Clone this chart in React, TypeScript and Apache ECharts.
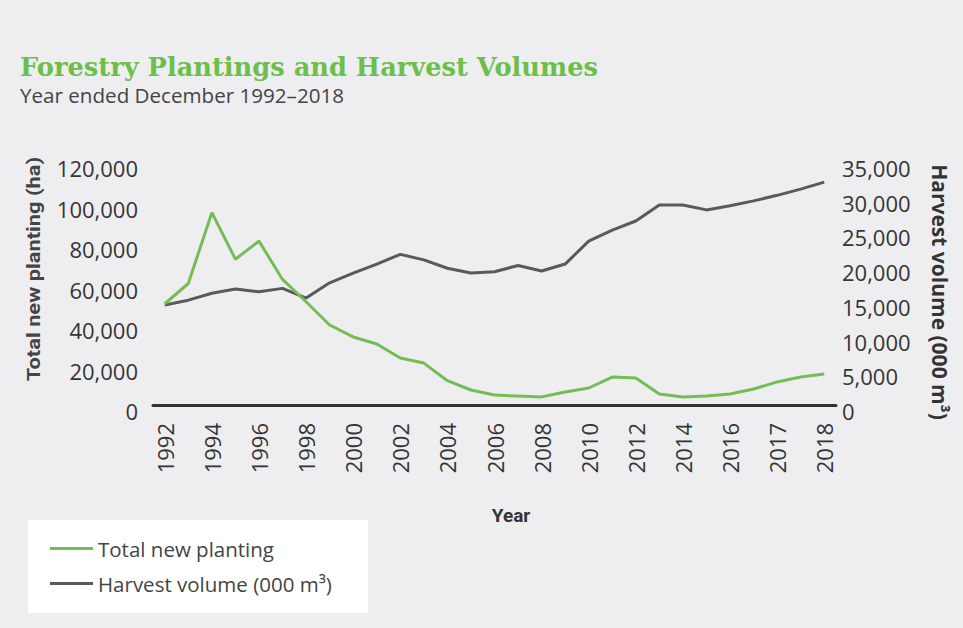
import React, { useEffect, useRef } from "react";
import * as echarts from "echarts";

const categories = [
  "1992", "1993", "1994", "1995", "1996", "1997", "1998", "1999", "2000",
  "2001", "2002", "2003", "2004", "2005", "2006", "2007", "2008", "2009",
  "2010", "2011", "2012", "2013", "2014", "2015", "2016", "2016/17", "2017",
  "2017/18", "2018",
];
const newPlanting = [
  50000, 60000, 95000, 72000, 81000, 62000, 51000, 39500, 33600, 30100,
  23200, 20700, 12000, 7400, 4900, 4400, 4000, 6400, 8400, 13800, 13300,
  5400, 4000, 4400, 5400, 7900, 11400, 13800, 15300,
];
const harvestVolume = [
  14400, 15100, 16100, 16700, 16300, 16800, 15400, 17600, 19000, 20300,
  21700, 20900, 19700, 19000, 19200, 20100, 19300, 20300, 23600, 25200,
  26500, 28800, 28800, 28100, 28700, 29400, 30200, 31100, 32100,
];
const plantingTicks = [0, 20000, 40000, 60000, 80000, 100000, 120000];
const harvestTicks = [0, 5000, 10000, 15000, 20000, 25000, 30000, 35000];

const seriesNames = ["Total new planting", "Harvest volume (000 m³)"];

const GREEN = "#74bd55";
const GRAY = "#5a5a5c";
const TEXT = "#353535";
const BG = "#eeeef1";

const fmt = (v: number) => v.toLocaleString("en-US");

export default function App() {
  const ref = useRef<HTMLDivElement>(null);
  useEffect(() => {
    if (!ref.current) return;
    const chart = echarts.init(ref.current, undefined, { renderer: "svg" });
    const yLabel = {
      formatter: (v: number) => fmt(v),
      fontFamily: "Open Sans",
      fontSize: 22,
      color: TEXT,
      verticalAlign: "top",
      lineHeight: 12,
    };
    chart.setOption({
      animation: false,
      backgroundColor: BG,
      graphic: [
        {
          type: "rect",
          z: 0,
          shape: { x: 28, y: 520, width: 340, height: 93 },
          style: { fill: "#ffffff" },
        },
        {
          type: "text",
          x: 20,
          y: 67,
          style: {
            text: "Forestry Plantings and Harvest Volumes",
            fill: "#6cbf4a",
            font: "bold 25.7px 'DejaVu Serif'",
            textAlign: "left",
            textVerticalAlign: "middle",
          },
        },
        {
          type: "text",
          x: 20,
          y: 95,
          style: {
            text: "Year ended December 1992–2018",
            fill: "#444444",
            font: "20.6px 'Open Sans'",
            textAlign: "left",
            textVerticalAlign: "middle",
          },
        },
        {
          type: "text",
          x: 34,
          y: 269,
          rotation: Math.PI / 2,
          scaleX: 1.15,
          style: {
            text: "Total new planting (ha)",
            fill: "#444444",
            font: "bold 19px Roboto",
            textAlign: "center",
            textVerticalAlign: "middle",
          },
        },
        {
          type: "text",
          x: 940,
          y: 292,
          rotation: -Math.PI / 2,
          style: {
            text: "Harvest volume (000 m³)",
            fill: "#333333",
            font: "bold 21px 'Open Sans'",
            textAlign: "center",
            textVerticalAlign: "middle",
          },
        },
        {
          type: "text",
          x: 511,
          y: 515,
          style: {
            text: "Year",
            fill: "#333333",
            font: "bold 19px Roboto",
            textAlign: "center",
            textVerticalAlign: "middle",
          },
        },
      ],
      legend: {
        data: seriesNames.map((n) => ({ name: n, icon: "rect" })),
        orient: "vertical",
        left: 45,
        top: 533,
        itemWidth: 43,
        itemHeight: 3,
        itemGap: 14,
        textStyle: {
          fontFamily: "Open Sans",
          fontSize: 20.5,
          color: "#444444",
          lineHeight: 20,
        },
      },
      grid: { left: 153, right: 127, top: 162, bottom: 223 },
      xAxis: {
        type: "category",
        data: categories,
        boundaryGap: true,
        axisLine: { lineStyle: { color: "#333333", width: 3 } },
        axisTick: { show: false },
        axisLabel: {
          interval: 1,
          rotate: 90,
          margin: 18,
          fontFamily: "Open Sans",
          fontSize: 22,
          color: TEXT,
        },
      },
      yAxis: [
        {
          type: "value",
          position: "left",
          min: plantingTicks[0],
          max: plantingTicks[plantingTicks.length - 1],
          interval: plantingTicks[1] - plantingTicks[0],
          axisLine: { show: false },
          axisTick: { show: false },
          splitLine: { show: false },
          axisLabel: { ...yLabel, margin: 15 },
        },
        {
          type: "value",
          position: "right",
          min: harvestTicks[0],
          max: harvestTicks[harvestTicks.length - 1],
          interval: harvestTicks[1] - harvestTicks[0],
          axisLine: { show: false },
          axisTick: { show: false },
          splitLine: { show: false },
          axisLabel: { ...yLabel, margin: 6 },
        },
      ],
      series: [
        {
          name: seriesNames[0],
          type: "line",
          yAxisIndex: 0,
          data: newPlanting,
          symbol: "none",
          color: GREEN,
          lineStyle: { color: GREEN, width: 3 },
          z: 3,
        },
        {
          name: seriesNames[1],
          type: "line",
          yAxisIndex: 1,
          data: harvestVolume,
          symbol: "none",
          color: GRAY,
          lineStyle: { color: GRAY, width: 3 },
          z: 2,
        },
      ],
    });
    return () => chart.dispose();
  }, []);
  return (
    <div
      ref={ref}
      style={{ position: "fixed", left: 0, top: 0, width: 963, height: 628 }}
    />
  );
}
